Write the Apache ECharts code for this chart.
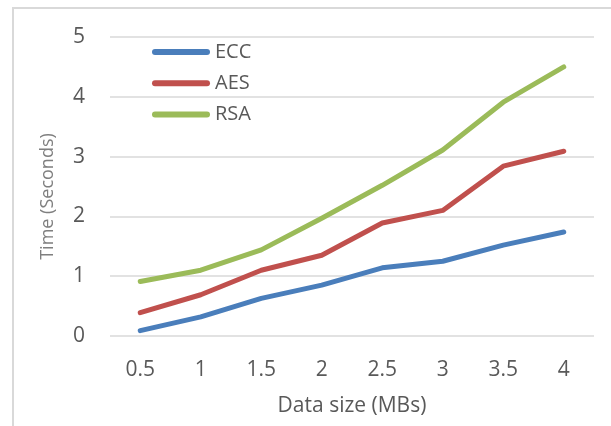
<!DOCTYPE html>
<html>
<head>
<meta charset="utf-8">
<script src="https://cdn.jsdelivr.net/npm/echarts@6/dist/echarts.min.js"></script>
<style>
  html, body { margin: 0; padding: 0; background: #ffffff; }
  #chart { width: 611px; height: 426px; }
</style>
</head>
<body>
<div id="chart"></div>
<script>
// Encryption time by data size
const dataSizes = ['0.5', '1', '1.5', '2', '2.5', '3', '3.5', '4'];
const eccTimes = [0.09, 0.32, 0.63, 0.85, 1.14, 1.25, 1.52, 1.74];
const aesTimes = [0.39, 0.69, 1.10, 1.35, 1.89, 2.10, 2.84, 3.09];
const rsaTimes = [0.91, 1.10, 1.44, 1.97, 2.52, 3.11, 3.91, 4.50];
const seriesNames = ['ECC', 'AES', 'RSA'];
const seriesColors = ['#4a7ebb', '#c0504d', '#9bbb59'];

const font = '"Open Sans", "Noto Sans", sans-serif';
const textColor = '#595959';
const pillIcon = 'path://M3,0 L55,0 A3,3 0 0 1 55,6 L3,6 A3,3 0 0 1 3,0 Z';

const chart = echarts.init(document.getElementById('chart'), null, { renderer: 'canvas' });

function lineSeries(name, values, color) {
  return {
    name: name,
    type: 'line',
    data: values,
    symbol: 'none',
    showSymbol: false,
    smooth: false,
    lineStyle: { color: color, width: 5, cap: 'round', join: 'round' },
    itemStyle: { color: color },
    emphasis: { disabled: true },
    animation: false
  };
}

chart.setOption({
  backgroundColor: '#ffffff',
  animation: false,
  textStyle: { fontFamily: font },
  graphic: [{
    type: 'rect',
    shape: { x: 13, y: 8, width: 620, height: 440 },
    style: { fill: 'none', stroke: '#d9d9d9', lineWidth: 2 },
    silent: true
  }],
  grid: { left: 110, right: 17, top: 37, bottom: 90 },
  legend: {
    orient: 'vertical',
    left: 152,
    top: 42,
    padding: 0,
    itemWidth: 58,
    itemHeight: 6,
    itemGap: 11.3,
    icon: pillIcon,
    data: seriesNames,
    textStyle: { fontFamily: font, fontSize: 20, color: textColor, lineHeight: 20 }
  },
  xAxis: {
    type: 'category',
    data: dataSizes,
    boundaryGap: true,
    axisLine: { show: false },
    axisTick: { show: false },
    axisLabel: { fontFamily: font, fontSize: 21, color: textColor, margin: 24 },
    name: 'Data size (MBs)',
    nameLocation: 'middle',
    nameGap: 60,
    nameTextStyle: { fontFamily: font, fontSize: 21, color: textColor }
  },
  yAxis: {
    type: 'value',
    min: 0,
    max: 5,
    interval: 1,
    axisLine: { show: false },
    axisTick: { show: false },
    splitLine: { lineStyle: { color: '#d9d9d9', width: 1.5 } },
    axisLabel: { fontFamily: font, fontSize: 21, color: textColor, margin: 25 },
    name: 'Time (Seconds)',
    nameLocation: 'middle',
    nameGap: 53,
    nameTextStyle: { fontFamily: font, fontSize: 18, color: '#7f7f7f', padding: [0, 20, 0, 0] }
  },
  series: [
    lineSeries(seriesNames[0], eccTimes, seriesColors[0]),
    lineSeries(seriesNames[1], aesTimes, seriesColors[1]),
    lineSeries(seriesNames[2], rsaTimes, seriesColors[2])
  ]
});
</script>
</body>
</html>
